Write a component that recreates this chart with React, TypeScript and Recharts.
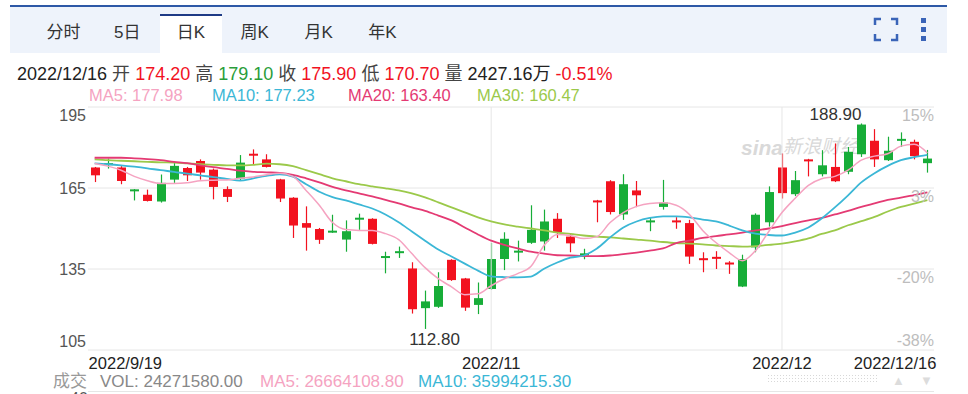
import React from "react";
import {
  ComposedChart,
  Bar,
  Line,
  XAxis,
  YAxis,
  CartesianGrid,
  ReferenceLine,
} from "recharts";

// HK trading days shown on the daily K chart
const dates = [
  "2022/9/19", "2022/9/20", "2022/9/21", "2022/9/22", "2022/9/23", "2022/9/26", "2022/9/27", "2022/9/28", "2022/9/29", "2022/9/30",
  "2022/10/3", "2022/10/5", "2022/10/6", "2022/10/7", "2022/10/10", "2022/10/11", "2022/10/12", "2022/10/13", "2022/10/14", "2022/10/17",
  "2022/10/18", "2022/10/19", "2022/10/20", "2022/10/21", "2022/10/24", "2022/10/25", "2022/10/26", "2022/10/27", "2022/10/28", "2022/10/31",
  "2022/11/1", "2022/11/2", "2022/11/3", "2022/11/4", "2022/11/7", "2022/11/8", "2022/11/9", "2022/11/10", "2022/11/11", "2022/11/14",
  "2022/11/15", "2022/11/16", "2022/11/17", "2022/11/18", "2022/11/21", "2022/11/22", "2022/11/23", "2022/11/24", "2022/11/25", "2022/11/28",
  "2022/11/29", "2022/11/30", "2022/12/1", "2022/12/2", "2022/12/5", "2022/12/6", "2022/12/7", "2022/12/8", "2022/12/9", "2022/12/12",
  "2022/12/13", "2022/12/14", "2022/12/15", "2022/12/16",
];

const open = [
  172.6, 173.8, 172.6, 164.3, 162.5, 160.0, 168.1, 172.4, 175.0, 171.8,
  164.6, 168.5, 177.7, 175.6, 168.2, 161.4, 152.0, 149.8, 148.8, 145.9,
  153.6, 153.6, 139.4, 141.2, 135.2, 120.5, 121.0, 138.4, 131.5, 121.7,
  127.6, 138.7, 141.4, 144.7, 145.2, 153.6, 147.0, 140.4, 160.4, 167.5,
  155.2, 164.1, 152.6, 158.0, 153.0, 152.0, 139.0, 139.5, 137.4, 128.5,
  143.0, 152.3, 172.6, 162.7, 175.6, 170.1, 172.8, 171.0, 177.5, 182.5,
  175.3, 182.8, 182.1, 174.2,
];
const high = [
  172.8, 175.9, 173.1, 164.6, 164.4, 170.0, 174.3, 172.8, 175.6, 172.2,
  165.6, 177.2, 179.3, 177.5, 168.4, 161.6, 158.2, 150.2, 155.1, 153.0,
  155.5, 153.8, 141.4, 143.3, 137.5, 127.0, 133.8, 138.6, 131.7, 130.0,
  144.7, 148.6, 145.5, 158.6, 157.0, 155.7, 148.3, 142.5, 160.6, 167.9,
  170.1, 167.6, 154.2, 168.0, 154.2, 153.2, 141.2, 141.6, 137.9, 140.3,
  155.6, 165.6, 177.8, 171.3, 175.8, 179.0, 181.5, 180.2, 188.9, 186.8,
  184.0, 185.6, 182.9, 179.1,
];
const low = [
  167.2, 172.2, 166.4, 160.4, 160.0, 159.6, 166.9, 167.6, 168.1, 160.8,
  159.8, 167.9, 173.8, 172.6, 159.8, 146.5, 141.8, 144.3, 148.4, 141.4,
  149.5, 144.1, 133.4, 139.1, 118.5, 112.8, 120.6, 130.6, 119.5, 118.3,
  127.3, 134.6, 137.8, 144.3, 141.8, 146.5, 141.2, 138.6, 152.3, 155.2,
  153.2, 157.9, 149.0, 157.0, 149.9, 136.9, 133.8, 135.0, 133.2, 128.3,
  141.2, 150.7, 161.1, 162.0, 169.3, 169.3, 167.2, 170.1, 176.5, 172.8,
  175.0, 180.2, 175.6, 170.7,
];
const close = [
  169.7, 174.2, 167.6, 164.5, 160.2, 166.9, 173.2, 169.7, 170.7, 165.4,
  161.7, 174.4, 177.2, 172.8, 161.1, 151.1, 150.3, 145.8, 149.2, 149.0,
  154.0, 144.3, 139.8, 141.6, 120.1, 123.0, 128.7, 130.9, 120.7, 124.2,
  138.7, 146.2, 141.8, 149.5, 152.6, 148.6, 144.5, 140.8, 160.0, 156.1,
  166.4, 162.3, 153.0, 159.6, 152.6, 139.6, 138.5, 139.0, 137.0, 138.7,
  155.1, 163.5, 163.1, 167.9, 175.1, 173.4, 167.5, 178.4, 188.5, 175.6,
  178.8, 183.2, 176.8, 175.9,
];

// moving averages
const ma5 = [
  174.1, 173.1, 171.6, 169.3, 167.7, 166.7, 166.7, 166.9, 167.7, 167.9,
  168.0, 168.6, 169.1, 169.9, 170.5, 169.3, 164.1, 158.6, 152.2, 149.6,
  149.3, 149.3, 148.1, 145.9, 140.7, 135.5, 131.4, 128.4, 125.5, 125.8,
  128.8, 131.4, 133.3, 135.9, 143.7, 147.8, 147.4, 146.3, 147.0, 152.2,
  155.9, 158.2, 159.3, 159.5, 158.6, 155.2, 149.3, 144.8, 141.1, 138.1,
  141.8, 148.9, 155.9, 161.2, 166.0, 168.4, 169.3, 171.6, 175.3, 176.8,
  177.7, 180.5, 181.2, 177.98,
];
const ma10 = [
  174.1, 173.8, 173.4, 172.9, 172.3, 171.6, 171.0, 170.3, 169.7, 169.0,
  168.4, 167.7, 168.6, 169.5, 170.1, 169.2, 166.4, 163.6, 161.6, 160.4,
  158.9, 157.4, 155.2, 152.3, 148.9, 145.5, 142.2, 139.6, 137.0, 134.4,
  132.3, 132.0, 131.9, 132.2, 135.1, 137.4, 139.2, 140.0, 142.6, 146.7,
  150.4, 152.6, 153.9, 154.5, 154.5, 154.1, 153.3, 152.6, 151.1, 149.3,
  148.1, 147.6, 147.4, 148.5, 150.4, 153.7, 157.8, 162.3, 167.1, 170.5,
  173.2, 175.3, 176.4, 177.23,
];
const ma20 = [
  176.2, 176.2, 176.2, 176.0, 175.7, 175.3, 174.7, 174.2, 173.4, 172.7,
  172.1, 171.4, 171.0, 170.8, 170.6, 169.9, 168.6, 167.1, 165.4, 164.1,
  163.0, 161.9, 160.6, 159.3, 157.8, 156.5, 154.8, 153.0, 150.4, 147.8,
  145.5, 143.9, 142.6, 141.4, 140.7, 140.1, 140.0, 139.8, 139.8, 140.0,
  140.5, 141.1, 141.8, 142.6, 144.6, 145.5, 146.5, 147.2, 147.8, 148.5,
  149.3, 150.0, 150.9, 152.0, 153.0, 153.9, 155.2, 156.5, 158.0, 159.3,
  160.6, 161.4, 162.4, 163.4,
];
const ma30 = [
  175.6, 175.3, 175.1, 174.9, 174.7, 174.5, 174.4, 174.1, 173.8, 173.6,
  173.4, 173.4, 173.6, 174.0, 173.8, 173.1, 171.6, 170.1, 168.6, 167.5,
  166.4, 165.6, 164.9, 164.1, 163.0, 161.5, 159.7, 157.8, 156.0, 154.1,
  152.6, 151.5, 150.7, 150.0, 149.3, 148.5, 148.0, 147.4, 147.0, 146.7,
  146.3, 145.9, 145.5, 145.0, 144.6, 144.4, 144.1, 143.7, 143.5, 143.3,
  143.5, 143.9, 144.4, 145.2, 146.3, 148.0, 149.3, 151.2, 152.7, 154.3,
  156.3, 158.0, 159.2, 160.47,
];

const tickDates = ["2022/9/19", "2022/11/1", "2022/12/1", "2022/12/16"];
const tickLabels = ["2022/9/19", "2022/11", "2022/12", "2022/12/16"];
const gridDates = ["2022/11/1", "2022/12/1"];
const priceTicks = [105, 135, 165, 195];
const pctLabels = ["-38%", "-20%", "3%", "15%"];
const tabs = ["分时", "5日", "日K", "周K", "月K", "年K"];
const volumeText = "2427.16万";
const changeText = "-0.51%";
const volStats = ["24271580.00", "26664108.80", "35994215.30"];

const FONT = '"Liberation Sans", Arial, "Noto Sans CJK SC", sans-serif';
const RED = "#f2121f";
const GREEN = "#17ad38";
const C_MA5 = "#f5a3c1";
const C_MA10 = "#3bb7d6";
const C_MA20 = "#e43a73";
const C_MA30 = "#9bc94a";

const data = dates.map((d, i) => ({
  date: d,
  o: open[i],
  h: high[i],
  l: low[i],
  c: close[i],
  range: [low[i], high[i]],
  ma5: ma5[i],
  ma10: ma10[i],
  ma20: ma20[i],
  ma30: ma30[i],
}));

const hiIdx = high.indexOf(Math.max(...high));
const loIdx = low.indexOf(Math.min(...low));
const last = dates.length - 1;

function Candle(props: any) {
  const { x, y, width, height, payload } = props;
  if (!payload) return null;
  const top = Math.min(y, y + height);
  const h = Math.abs(height);
  const span = payload.h - payload.l;
  const k = span > 0 ? h / span : 0;
  const up = payload.c >= payload.o;
  const color = up ? GREEN : RED;
  const cx = Math.round(x + width / 2) + 0.5;
  const bTop = top + (payload.h - Math.max(payload.o, payload.c)) * k;
  const bBot = top + (payload.h - Math.min(payload.o, payload.c)) * k;
  return (
    <g>
      <line x1={cx} x2={cx} y1={top} y2={top + h} stroke={color} strokeWidth={1.2} />
      <rect x={cx - width / 2} y={bTop} width={width} height={Math.max(bBot - bTop, 2)} fill={color} />
      {payload.date === dates[hiIdx] && (
        <text x={cx} y={top - 9} textAnchor="end" dominantBaseline="central" fill="#333" fontSize={17} fontFamily={FONT}>
          {payload.h.toFixed(2)}
        </text>
      )}
      {payload.date === dates[loIdx] && (
        <text x={cx + 9} y={top + h + 11} textAnchor="middle" dominantBaseline="central" fill="#333" fontSize={17} fontFamily={FONT}>
          {payload.l.toFixed(2)}
        </text>
      )}
    </g>
  );
}

const LeftTick = (props: any) => {
  const { x, y, payload } = props;
  const v = payload.value;
  const dy = v === priceTicks[priceTicks.length - 1] ? 8 : v === priceTicks[0] ? -9 : 0;
  return (
    <text x={x} y={y + dy} textAnchor="end" dominantBaseline="central" fill="#555" fontSize={16} fontFamily={FONT}>
      {v}
    </text>
  );
};

const RightTick = (props: any) => {
  const { y, payload } = props;
  const i = priceTicks.indexOf(payload.value);
  const dy = i === 0 ? -10 : 8;
  return (
    <text x={934} y={y + dy} textAnchor="end" dominantBaseline="central" fill="#bdbdbd" fontSize={16} fontFamily={FONT}>
      {pctLabels[i]}
    </text>
  );
};

const BottomTick = (props: any) => {
  const { x, y, payload } = props;
  const i = tickDates.indexOf(payload.value);
  const lastTick = tickDates.length - 1;
  const anchor = i === 0 ? "start" : i === lastTick ? "end" : "middle";
  const dx = i === 0 ? -6 : i === lastTick ? 9 : 0;
  return (
    <text x={x + dx} y={y + 11} textAnchor={anchor} dominantBaseline="central" fill="#222" fontSize={16.5} fontFamily={FONT}>
      {tickLabels[i]}
    </text>
  );
};

const abs = (left: number, top: number): React.CSSProperties => ({
  position: "absolute",
  left,
  top,
  whiteSpace: "pre",
  fontFamily: FONT,
  lineHeight: 1,
});

export default function App() {
  const info = [
    { t: dates[last], c: "#222" },
    { t: "开", c: "#444" },
    { t: open[last].toFixed(2), c: RED },
    { t: "高", c: "#444" },
    { t: high[last].toFixed(2), c: "#2a9d3a" },
    { t: "收", c: "#444" },
    { t: close[last].toFixed(2), c: RED },
    { t: "低", c: "#444" },
    { t: low[last].toFixed(2), c: RED },
    { t: "量", c: "#444" },
    { t: volumeText, c: "#222" },
    { t: changeText, c: RED },
  ];
  const legend = [
    { t: `MA5: ${ma5[last].toFixed(2)}`, c: C_MA5, left: 89 },
    { t: `MA10: ${ma10[last].toFixed(2)}`, c: C_MA10, left: 212 },
    { t: `MA20: ${ma20[last].toFixed(2)}`, c: C_MA20, left: 348 },
    { t: `MA30: ${ma30[last].toFixed(2)}`, c: C_MA30, left: 477 },
  ];

  return (
    <div style={{ position: "absolute", left: 0, top: 0, width: 968, height: 394, overflow: "hidden", background: "#fff", fontFamily: FONT }}>
      {/* tab bar */}
      <div style={{ position: "absolute", left: 10, top: 5, width: 937, height: 2, background: "#2d58a6" }} />
      <div style={{ position: "absolute", left: 10, top: 7, width: 937, height: 46, background: "#eef3fb" }} />
      <div style={{ position: "absolute", left: 160, top: 14, width: 62, height: 39, background: "#fff", borderTop: "2px solid #1e3b86", boxSizing: "border-box" }} />
      {tabs.map((t, i) => (
        <div key={t} style={{ ...abs(31.5 + i * 63.8, 24), width: 63.8, textAlign: "center", fontSize: 17, color: "#333" }}>
          {t}
        </div>
      ))}
      <svg style={{ position: "absolute", left: 870, top: 14 }} width={70} height={32}>
        <g stroke="#3a64b8" strokeWidth={2.5} fill="none">
          <path d="M5 11 V5 H11" />
          <path d="M21 5 H27 V11" />
          <path d="M5 20 V26 H11" />
          <path d="M21 26 H27 V20" />
        </g>
        <rect x={51} y={4} width={5} height={5} fill="#3a64b8" />
        <rect x={51} y={13} width={5} height={5} fill="#3a64b8" />
        <rect x={51} y={22} width={5} height={5} fill="#3a64b8" />
      </svg>

      {/* quote line */}
      <div style={{ ...abs(17, 65), fontSize: 18 }}>
        {info.map((it, i) => (
          <span key={i} style={{ color: it.c }}>
            {it.t}
            {i < info.length - 1 ? " " : ""}
          </span>
        ))}
      </div>
      {legend.map((l) => (
        <div key={l.t} style={{ ...abs(l.left, 87), fontSize: 16.5, color: l.c }}>
          {l.t}
        </div>
      ))}

      {/* watermark */}
      <svg style={{ position: "absolute", left: 735, top: 128 }} width={140} height={40}>
        <text x={6} y={27} fontSize={21} fontStyle="italic" fontWeight="bold" fill="#d9d9d9" fontFamily={FONT}>sina</text>
        <text x={48} y={25} fontSize={19} fontStyle="italic" fill="#d9d9d9" fontFamily={FONT}>新浪财经</text>
      </svg>

      <div style={{ position: "absolute", left: 0, top: 0 }}>
        <ComposedChart width={968} height={394} data={data} margin={{ top: 107, right: 34, bottom: 14, left: 28 }}>
          <CartesianGrid yAxisId="left" vertical={false} stroke="#e6e6e6" />
          <XAxis
            dataKey="date"
            ticks={tickDates}
            interval={0}
            axisLine={false}
            tickLine={false}
            tickSize={0}
            height={30}
            tick={<BottomTick />}
          />
          <YAxis
            yAxisId="left"
            type="number"
            domain={[105, 195]}
            ticks={priceTicks}
            width={60}
            axisLine={false}
            tickLine={false}
            tickSize={0}
            tickMargin={2}
            tick={<LeftTick />}
          />
          <YAxis
            yAxisId="right"
            orientation="right"
            mirror
            type="number"
            domain={[105, 195]}
            ticks={priceTicks}
            width={34}
            axisLine={false}
            tickLine={false}
            tickSize={0}
            tickMargin={0}
            tick={<RightTick />}
          />
          {gridDates.map((d) => (
            <ReferenceLine key={d} yAxisId="left" x={d} stroke="#e6e6e6" />
          ))}
          <Bar yAxisId="left" dataKey="range" barSize={9} shape={<Candle />} isAnimationActive={false} />
          <Line yAxisId="right" type="monotone" dataKey="ma30" stroke={C_MA30} strokeWidth={1.8} dot={false} activeDot={false} isAnimationActive={false} />
          <Line yAxisId="left" type="monotone" dataKey="ma20" stroke={C_MA20} strokeWidth={1.8} dot={false} activeDot={false} isAnimationActive={false} />
          <Line yAxisId="left" type="monotone" dataKey="ma10" stroke={C_MA10} strokeWidth={1.8} dot={false} activeDot={false} isAnimationActive={false} />
          <Line yAxisId="left" type="monotone" dataKey="ma5" stroke={C_MA5} strokeWidth={1.5} dot={false} activeDot={false} isAnimationActive={false} />
        </ComposedChart>
      </div>

      {/* volume panel header */}
      <div style={{ ...abs(53, 373), fontSize: 17, color: "#999" }}>成交</div>
      <div style={{ ...abs(100, 373), fontSize: 17, color: "#888" }}>{`VOL: ${volStats[0]}`}</div>
      <div style={{ ...abs(260, 373), fontSize: 17, color: C_MA5 }}>{`MA5: ${volStats[1]}`}</div>
      <div style={{ ...abs(418, 373), fontSize: 17, color: C_MA10 }}>{`MA10: ${volStats[2]}`}</div>
      <div
        style={{
          position: "absolute",
          left: 767,
          top: 374,
          width: 110,
          height: 10,
          backgroundImage: "radial-gradient(#d8d8d8 0.8px, transparent 0.9px)",
          backgroundSize: "3px 3px",
        }}
      />
      <div style={{ ...abs(892, 374), fontSize: 13, color: "#dcdcdc" }}>▲</div>
      <div style={{ ...abs(920, 374), fontSize: 13, color: "#dcdcdc" }}>▼</div>
      <div style={{ position: "absolute", left: 88, top: 391, width: 846, height: 1, background: "#e6e6e6" }} />
      <div style={{ ...abs(70, 391), fontSize: 16, color: "#555" }}>40</div>
    </div>
  );
}
